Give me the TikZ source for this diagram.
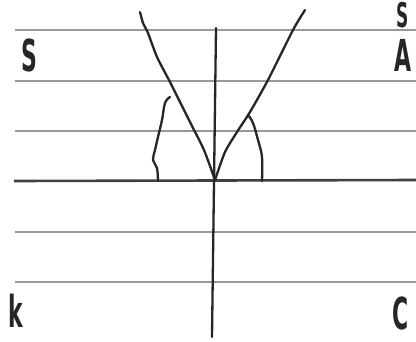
\documentclass[tikz,border=0pt]{standalone}
\usepackage{fontspec}
\setmainfont{DejaVu Sans}
\tikzset{
  ruled/.style={draw=black!40, line width=1.6pt},
  baseline/.style={draw=black!75, line width=2.6pt},
  pen/.style={draw=black!85, line width=2.3pt, line cap=round, line join=round},
  letter/.style={inner sep=0pt, text=black!85, font=\fontsize{44}{44}\selectfont\bfseries, xscale=0.5}
}
\begin{document}
\begin{tikzpicture}[x=1pt,y=-1pt]
\useasboundingbox (0,0) rectangle (416,341);
\clip (0,0) rectangle (416,341);
\fill[white] (0,0) rectangle (416,341);
% ruled paper lines
\foreach \yy in {30,81,131,232,282} {
  \draw[ruled] (15,\yy) -- (416,\yy);
}
\draw[baseline] (14,181) -- (416,180);
% vertical axis
\coordinate (vt) at (216,28);
\coordinate (vb) at (212,337);
\draw[pen] (vt) -- (vb);
% left line
\draw[pen] plot[smooth, tension=0.4] coordinates {(140,12) (143,23) (148,33) (157,57) (170,82) (180,102) (192,126) (204,150) (215,180)};
% right line
\draw[pen] plot[smooth, tension=0.4] coordinates {(305,10) (293,30) (268,80) (250,112) (237,132) (225,152) (215,180)};
% left angle arc
\draw[pen] plot[smooth, tension=0.6] coordinates {(170,97) (165,103) (162,120) (158,137) (155,150) (153,160) (157,168) (158,181)};
% right angle arc
\draw[pen] plot[smooth, tension=0.6] coordinates {(248,115) (253,123) (258,140) (262,157) (262,181)};
% letters
\node[letter] (s) at (29,55) {S};
\node[letter] (a) at (403,55) {A};
\node[letter, font=\fontsize{34}{34}\selectfont\bfseries] (s2) at (403,15) {S};
\node[letter] (k) at (16,311) {k};
\node[letter] (c) at (401,313) {C};
\end{tikzpicture}
\end{document}
